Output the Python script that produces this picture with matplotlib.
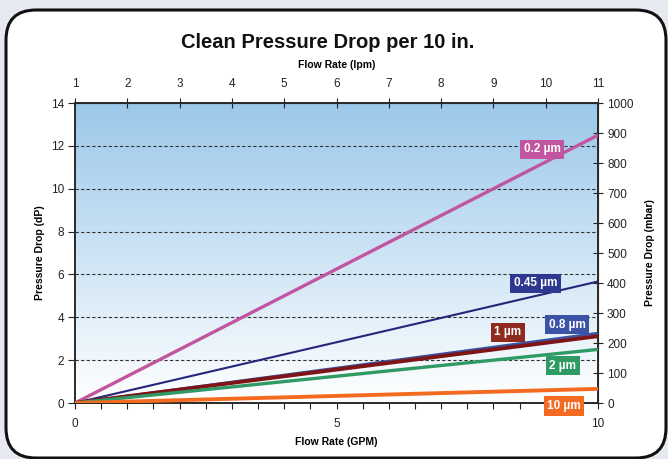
import numpy as np
import matplotlib.pyplot as plt
from matplotlib import font_manager
from matplotlib.patches import FancyBboxPatch

# fonts: narrow sans if there is one
names = {f.name for f in font_manager.fontManager.ttflist}
narrow = "Liberation Sans Narrow" if "Liberation Sans Narrow" in names else "Liberation Sans"
plt.rcParams["font.family"] = [narrow, "DejaVu Sans"]

# data: pressure drop (psi) at 0 and 10 GPM
flow_gpm = [0, 10]
ratings = ["0.2 µm", "0.45 µm", "0.8 µm", "1 µm", "2 µm", "10 µm"]
dp_02 = [0, 12.5]
dp_045 = [0, 5.67]
dp_08 = [0, 3.26]
dp_1 = [0, 3.12]
dp_2 = [0, 2.5]
dp_10 = [0, 0.66]
series = [dp_02, dp_045, dp_08, dp_1, dp_2, dp_10]

colors = ["#c2559f", "#25267a", "#3a53a4", "#7d1416", "#2f9a63", "#f36b21"]
widths = [2.4, 1.5, 2.0, 2.8, 2.4, 2.8]
label_colors = ["#c2559f", "#2e3890", "#3a53a4", "#8e2a1f", "#2f9a63", "#f36b21"]
label_pos = [(8.93, 11.85), (8.81, 5.58), (9.41, 3.65), (8.28, 3.31), (9.33, 1.73), (9.35, -0.14)]

fig = plt.figure(figsize=(6.68, 4.59), dpi=100, facecolor="#e6e9ef")

# white rounded panel behind the chart
panel = FancyBboxPatch((6 / 668, 1 / 459), 660 / 668, 448 / 459,
                       boxstyle="round,pad=0,rounding_size=0.045",
                       transform=fig.transFigure, fc="white", ec="#111111",
                       lw=2.2, mutation_aspect=668 / 459, zorder=-5)
fig.patches.append(panel)

ax = fig.add_axes([75 / 668, 1 - 403 / 459, 523 / 668, 300 / 459])
ax.set_xlim(0, 10)
ax.set_ylim(0, 14)

# blue to white gradient
grad = np.linspace(1, 0, 256).reshape(-1, 1)
top = np.array([155, 200, 234]) / 255
img = grad[..., None] * top + (1 - grad[..., None]) * np.array([1, 1, 1])
ax.imshow(img, extent=[0, 10, 0, 14], aspect="auto", zorder=0, origin="upper")

for y in range(2, 14, 2):
    ax.axhline(y, color="#333333", ls=(0, (3, 2)), lw=0.8, zorder=1)

for vals, c, w in zip(series, colors, widths):
    ax.plot(flow_gpm, vals, color=c, lw=w, solid_capstyle="butt", zorder=3)

for name, (lx, ly), c in zip(ratings, label_pos, label_colors):
    ax.text(lx, ly, name, color="white", fontsize=8.5, fontweight="bold",
            ha="center", va="center", zorder=5,
            bbox=dict(boxstyle="square,pad=0.3", fc=c, ec="none"))

for s in ax.spines.values():
    s.set_color("#2a2a2a")
    s.set_linewidth(1.4)

ax.set_xticks([0, 5, 10])
ax.set_xticks(np.arange(0, 10.01, 0.5), minor=True)
ax.set_yticks(range(0, 15, 2))
ax.tick_params(axis="x", which="both", direction="out", length=4, width=0.8,
               labelsize=8.5, colors="#222222", pad=7)
ax.tick_params(axis="y", direction="out", length=5, width=0.8,
               labelsize=8.5, colors="#222222", pad=3)
ax.set_xlabel("Flow Rate (GPM)", fontsize=7.5, fontweight="bold", labelpad=5)
ax.set_ylabel("Pressure Drop (dP)", fontsize=7.5, fontweight="bold", labelpad=4)

top_ax = ax.secondary_xaxis("top", functions=(lambda g: g + 1, lambda l: l - 1))
top_ax.set_xticks(range(1, 12))
top_ax.tick_params(direction="inout", length=7, width=0.8, labelsize=8.5,
                   colors="#222222", pad=6)
top_ax.set_xlabel("Flow Rate (lpm)", fontsize=7.5, fontweight="bold", labelpad=7)

right_ax = ax.secondary_yaxis("right", functions=(lambda p: p * 1000 / 14, lambda m: m * 14 / 1000))
right_ax.set_yticks(range(0, 1001, 100))
right_ax.tick_params(direction="inout", length=7, width=0.8, labelsize=8.5,
                     colors="#222222", pad=3)
right_ax.set_ylabel("Pressure Drop (mbar)", fontsize=7.5, fontweight="bold", labelpad=8)

fig.text(328 / 668, 1 - 43 / 459, "Clean Pressure Drop per 10 in.", ha="center",
         va="center", fontsize=14.5, fontweight="bold", color="#111111")

fig.savefig("out.png", dpi=100, facecolor=fig.get_facecolor())
